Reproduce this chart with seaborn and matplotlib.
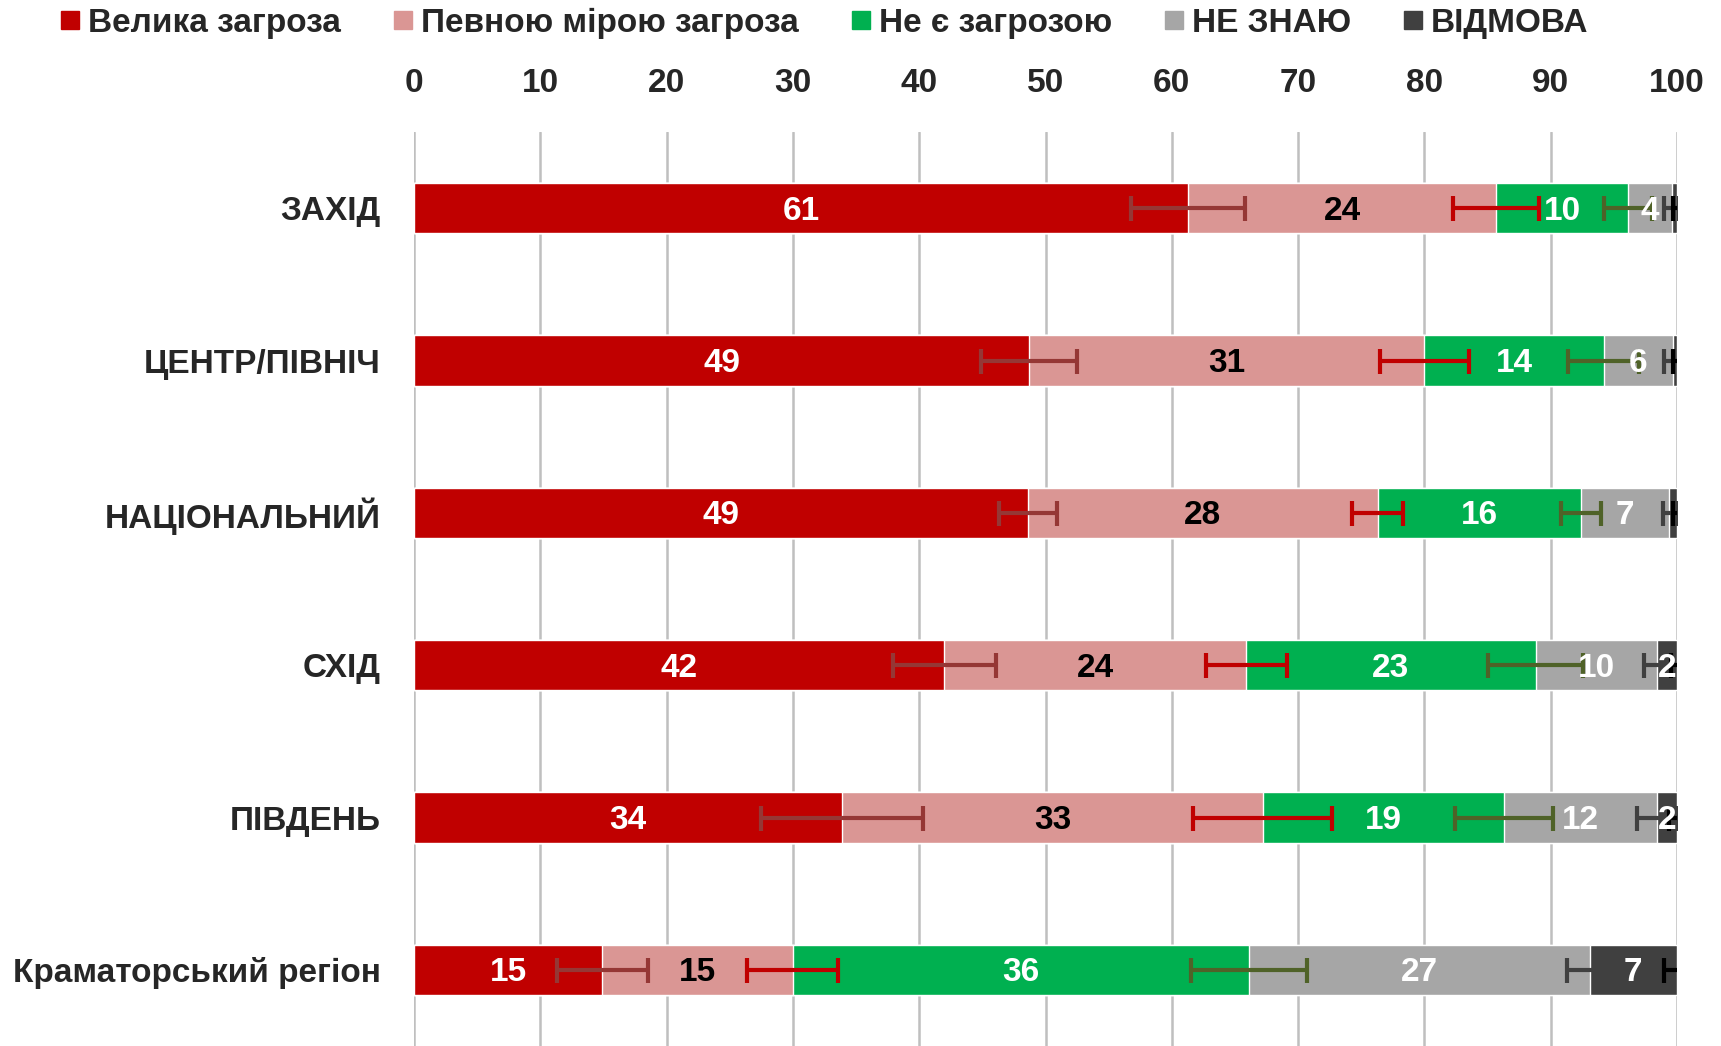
import numpy as np
import pandas as pd
import seaborn as sns
import matplotlib.pyplot as plt
from matplotlib.lines import Line2D

regions = ['ЗАХІД', 'ЦЕНТР/ПІВНІЧ', 'НАЦІОНАЛЬНИЙ', 'СХІД', 'ПІВДЕНЬ', 'Краматорський регіон']
series = ['Велика загроза', 'Певною мірою загроза', 'Не є загрозою', 'НЕ ЗНАЮ', 'ВІДМОВА']

big_threat = [61.3, 48.7, 48.6, 42.0, 33.9, 14.9]
some_threat = [24.4, 31.3, 27.7, 23.9, 33.3, 15.1]
no_threat = [10.4, 14.2, 16.1, 22.9, 19.1, 36.1]
dont_know = [3.5, 5.5, 7.0, 9.6, 12.1, 27.0]
refused = [0.4, 0.3, 0.6, 1.6, 1.6, 6.9]

# похибки (напівширина) на кінці кожного сегмента
err_big = [4.5, 3.8, 2.3, 4.1, 6.4, 3.6]
err_some = [3.4, 3.5, 2.0, 3.2, 5.5, 3.6]
err_no = [1.9, 2.8, 1.6, 3.8, 3.9, 4.6]
err_dk = [0.6, 0.7, 0.5, 1.0, 1.6, 1.8]
err_ref = [0.3, 0.3, 0.3, 0.5, 0.6, 1.0]

colors = ['#C00000', '#DA9694', '#00B050', '#A6A6A6', '#404040']
err_colors = ['#953735', '#C00000', '#4F6228', '#404040', '#000000']
text_colors = ['white', 'black', 'white', 'white', 'white']

values = [big_threat, some_threat, no_threat, dont_know, refused]
errors = [err_big, err_some, err_no, err_dk, err_ref]

sns.set_style('white')
plt.rcParams['font.family'] = ['Liberation Sans', 'DejaVu Sans']
plt.rcParams['font.weight'] = 'bold'

df = pd.DataFrame(dict(zip(series, values)), index=regions)
cum = df.cumsum(axis=1)

fig = plt.figure(figsize=(17.21, 10.46), dpi=100)
ax = fig.add_axes([0.2406, 0.0, 0.7338, 0.8738])

# накладаємо кумулятивні смуги від останньої до першої
for s, c in zip(series[::-1], colors[::-1]):
    sns.barplot(x=cum[s].values, y=regions, color=c, orient='h', width=0.33,
                ax=ax, saturation=1, zorder=2)

fs = 24
for j, s in enumerate(series):
    ends = cum[s].values
    starts = ends - df[s].values
    ax.errorbar(ends, np.arange(len(regions)), xerr=errors[j], fmt='none',
                ecolor=err_colors[j], elinewidth=3, capsize=9, capthick=3, zorder=4)
    for i, v in enumerate(df[s].values):
        if v >= 1:
            ax.text((starts[i] + ends[i]) / 2, i + 0.02, f'{v:.0f}', ha='center', va='center',
                    color=text_colors[j], fontsize=fs, fontweight='bold', zorder=5)

ax.set_xlim(0, 100)
ax.set_ylim(len(regions) - 0.5, -0.5)
ax.set_xticks(range(0, 101, 10))
ax.xaxis.tick_top()
ax.tick_params(axis='x', length=0, pad=24, labelsize=fs)
ax.tick_params(axis='y', length=0, pad=24, labelsize=fs)
for lab in ax.get_xticklabels() + ax.get_yticklabels():
    lab.set_fontweight('bold')
ax.grid(axis='x', color='#BFBFBF', linewidth=1.8, zorder=0)
ax.set_axisbelow(True)
sns.despine(ax=ax, left=True, bottom=True, top=True, right=True)
ax.set_xlabel('')
ax.set_ylabel('')

handles = [Line2D([], [], marker='s', linestyle='none', markersize=13, color=c) for c in colors]
fig.legend(handles, series, loc='center', bbox_to_anchor=(0.478, 0.978), ncol=5,
           frameon=False, handletextpad=0.15, columnspacing=1.45,
           handlelength=0.8, prop={'weight': 'bold', 'size': fs})

fig.savefig('out.png', dpi=100)
